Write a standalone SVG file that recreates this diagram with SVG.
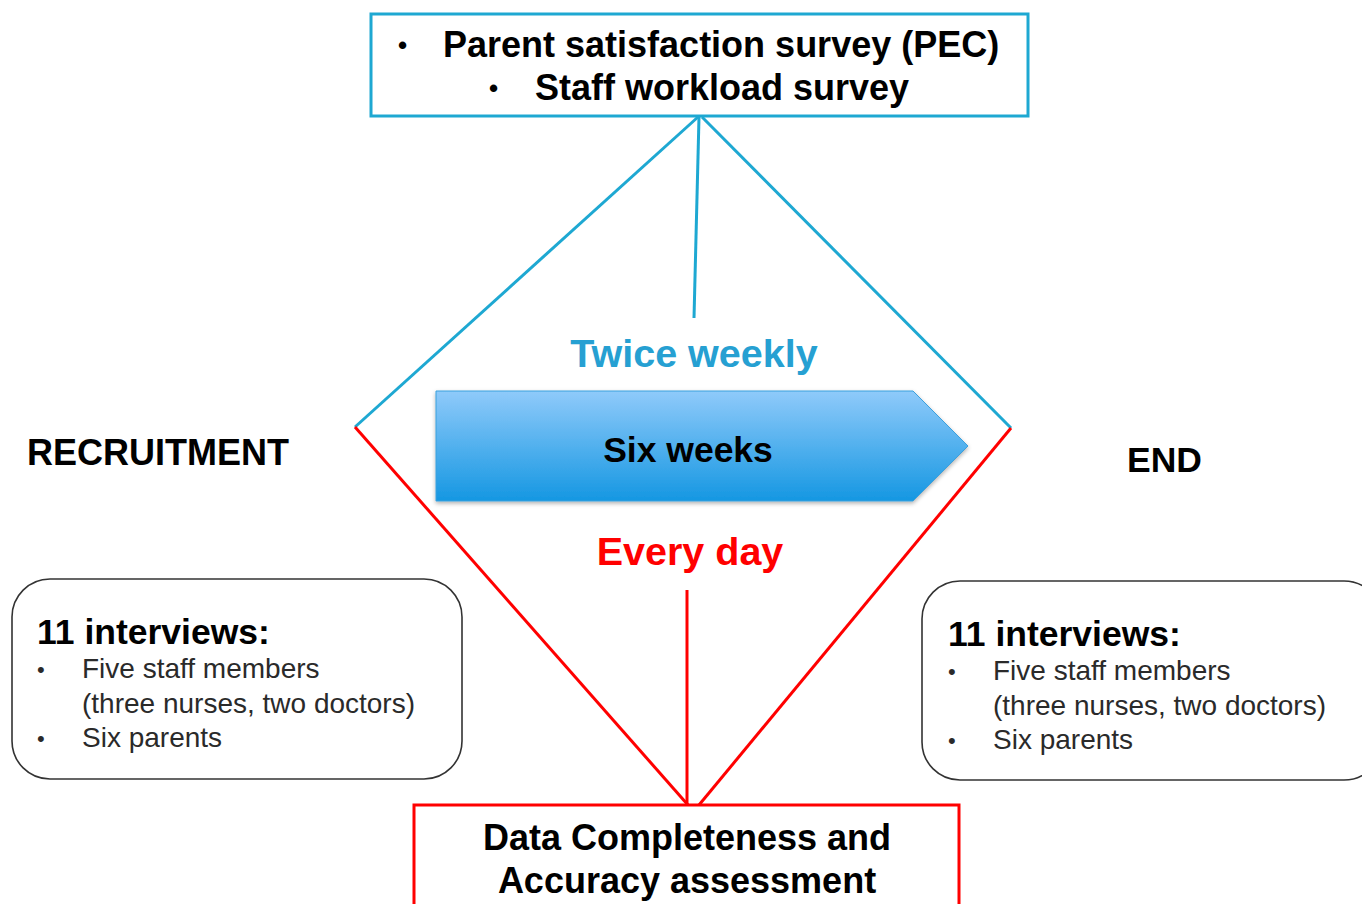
<svg xmlns="http://www.w3.org/2000/svg" width="1362" height="904" viewBox="0 0 1362 904">
<style>
.b{font-family:"Liberation Sans",Arial,sans-serif;font-weight:bold;fill:#000}
.r{font-family:"Liberation Sans",Arial,sans-serif;fill:#2a2a2a}
.blue{stroke:#1ea8d2;stroke-width:3;fill:none}
.red{stroke:#ff0000;stroke-width:3;fill:none}
.rbox{fill:#fff;stroke:#333;stroke-width:1.6}
</style>
<defs>
<linearGradient id="g" x1="0" y1="0" x2="0" y2="1">
<stop offset="0" stop-color="#8fcafa"/>
<stop offset="1" stop-color="#1597e2"/>
</linearGradient>
<filter id="sh" x="-5%" y="-10%" width="110%" height="125%">
<feDropShadow dx="0" dy="2" stdDeviation="2" flood-color="#000" flood-opacity="0.3"/>
</filter>
</defs>
<rect width="1362" height="904" fill="#fff"/>
<g id="connectors">
<line class="blue" x1="698" y1="117" x2="355" y2="427"/>
<line class="blue" x1="702" y1="117" x2="1011" y2="428"/>
<line class="blue" x1="699" y1="117" x2="694" y2="318"/>
<line class="red" x1="355" y1="427" x2="688" y2="805"/>
<line class="red" x1="1011" y1="428" x2="699" y2="805"/>
<line class="red" x1="687" y1="590" x2="687" y2="805"/>
</g>
<g id="top-box">
<rect x="371" y="14" width="657" height="102" fill="#fff" stroke="#1ea8d2" stroke-width="3"/>
<text class="b" x="398" y="54" font-size="26">•</text>
<text class="b" x="443" y="57" font-size="36">Parent satisfaction survey (PEC)</text>
<text class="b" x="489" y="97" font-size="26">•</text>
<text class="b" x="535" y="100" font-size="36">Staff workload survey</text>
</g>
<g id="twice-weekly">
<text x="694" y="367" font-size="39.5" text-anchor="middle" font-family="Liberation Sans,Arial,sans-serif" font-weight="bold" fill="#26a0d2">Twice weekly</text>
</g>
<g id="six-weeks">
<path d="M436 391 H913 L968 446 L913 501 H436 Z" fill="url(#g)" stroke="#3aa0dc" stroke-width="1" filter="url(#sh)"/>
<text class="b" x="688" y="462" font-size="35.5" text-anchor="middle">Six weeks</text>
</g>
<g id="every-day">
<text x="690" y="565" font-size="39.5" text-anchor="middle" font-family="Liberation Sans,Arial,sans-serif" font-weight="bold" fill="#ff0000">Every day</text>
</g>
<g id="recruitment">
<text class="b" x="27" y="465" font-size="36">RECRUITMENT</text>
</g>
<g id="end">
<text class="b" x="1127" y="472" font-size="35.5">END</text>
</g>
<g id="left-interviews">
<rect class="rbox" x="12" y="579" width="450" height="200" rx="38"/>
<text class="b" x="37" y="644" font-size="35.5">11 interviews:</text>
<text class="r" x="37" y="677" font-size="22">•</text>
<text class="r" x="82" y="678" font-size="28">Five staff members</text>
<text class="r" x="82" y="713" font-size="28">(three nurses, two doctors)</text>
<text class="r" x="37" y="746" font-size="22">•</text>
<text class="r" x="82" y="747" font-size="28">Six parents</text>
</g>
<g id="right-interviews">
<rect class="rbox" x="922" y="581" width="460" height="199" rx="38"/>
<text class="b" x="948" y="646" font-size="35.5">11 interviews:</text>
<text class="r" x="948" y="679" font-size="22">•</text>
<text class="r" x="993" y="680" font-size="28">Five staff members</text>
<text class="r" x="993" y="715" font-size="28">(three nurses, two doctors)</text>
<text class="r" x="948" y="748" font-size="22">•</text>
<text class="r" x="993" y="749" font-size="28">Six parents</text>
</g>
<g id="data-box">
<rect x="414" y="805" width="545" height="120" fill="#fff" stroke="#ff0000" stroke-width="3"/>
<text class="b" x="687" y="850" font-size="36" text-anchor="middle">Data Completeness and</text>
<text class="b" x="687" y="893" font-size="36" text-anchor="middle">Accuracy assessment</text>
</g>
</svg>
